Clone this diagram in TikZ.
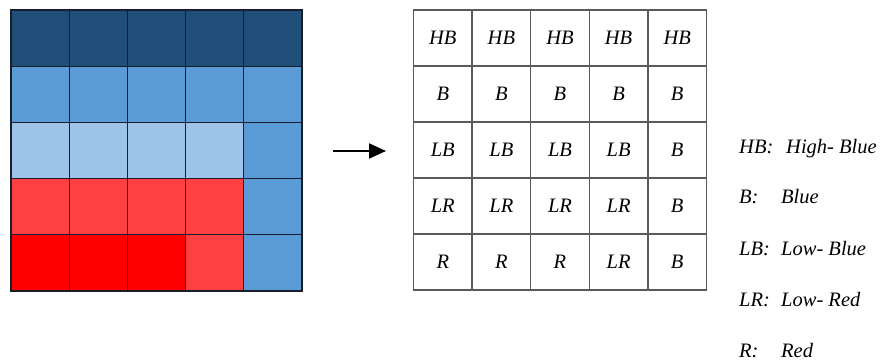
\documentclass[tikz,border=0pt]{standalone}
\usepackage{fontspec}
\setmainfont{Liberation Serif}
\newfontfamily\tnr{Liberation Serif}
\usetikzlibrary{arrows.meta}
\definecolor{hb}{RGB}{31,78,121}
\definecolor{bb}{RGB}{91,155,213}
\definecolor{lb}{RGB}{157,195,230}
\definecolor{lr}{RGB}{255,64,64}
\definecolor{rr}{RGB}{255,0,0}
\definecolor{gridA}{RGB}{25,30,45}
\definecolor{gridB}{RGB}{90,90,90}
\begin{document}
\begin{tikzpicture}[x=1pt,y=-1pt,
  lcell/.style={draw=gridA,line width=1.1pt,minimum width=58.2pt,minimum height=56.2pt,inner sep=0pt,outer sep=0pt},
  rcell/.style={draw=gridB,line width=1.4pt,minimum width=58.6pt,minimum height=56pt,inner sep=0pt,outer sep=0pt,font=\tnr\fontsize{20.5}{24}\selectfont\itshape},
  legend/.style={anchor=base west,inner sep=0pt,font=\tnr\fontsize{20.5}{24}\selectfont\itshape},
  arr/.style={line width=2.2pt,-{Triangle[length=17pt,width=15pt]}}]
\useasboundingbox (0,0) rectangle (881,361);
% left coloured grid
\foreach \c/\col in {0/hb,1/hb,2/hb,3/hb,4/hb}
  \node[lcell,fill=\col] (L-1-\c) at ({11+58.2*(\c+0.5)},{10+56.2*0.5}) {};
\foreach \c/\col in {0/bb,1/bb,2/bb,3/bb,4/bb}
  \node[lcell,fill=\col] (L-2-\c) at ({11+58.2*(\c+0.5)},{10+56.2*1.5}) {};
\foreach \c/\col in {0/lb,1/lb,2/lb,3/lb,4/bb}
  \node[lcell,fill=\col] (L-3-\c) at ({11+58.2*(\c+0.5)},{10+56.2*2.5}) {};
\foreach \c/\col in {0/lr,1/lr,2/lr,3/lr,4/bb}
  \node[lcell,fill=\col] (L-4-\c) at ({11+58.2*(\c+0.5)},{10+56.2*3.5}) {};
\foreach \c/\col in {0/rr,1/rr,2/rr,3/lr,4/bb}
  \node[lcell,fill=\col] (L-5-\c) at ({11+58.2*(\c+0.5)},{10+56.2*4.5}) {};
% arrow
\coordinate (as) at (333,151);
\coordinate (ae) at (386,151);
\draw[arr] (as) -- (ae);
% right labelled grid
\foreach \c/\t in {0/HB,1/HB,2/HB,3/HB,4/HB}
  \node[rcell] (R-1-\c) at ({413.5+58.6*(\c+0.5)},{10+56*0.5}) {\t};
\foreach \c/\t in {0/B,1/B,2/B,3/B,4/B}
  \node[rcell] (R-2-\c) at ({413.5+58.6*(\c+0.5)},{10+56*1.5}) {\t};
\foreach \c/\t in {0/LB,1/LB,2/LB,3/LB,4/B}
  \node[rcell] (R-3-\c) at ({413.5+58.6*(\c+0.5)},{10+56*2.5}) {\t};
\foreach \c/\t in {0/LR,1/LR,2/LR,3/LR,4/B}
  \node[rcell] (R-4-\c) at ({413.5+58.6*(\c+0.5)},{10+56*3.5}) {\t};
\foreach \c/\t in {0/R,1/R,2/R,3/LR,4/B}
  \node[rcell] (R-5-\c) at ({413.5+58.6*(\c+0.5)},{10+56*4.5}) {\t};
% legend
\node[legend] (k1) at (739,153) {HB:};
\node[legend] (v1) at (786,153) {High- Blue};
\node[legend] (k2) at (739,203.5) {B:};
\node[legend] (v2) at (781,203.5) {Blue};
\node[legend] (k3) at (739,255) {LB:};
\node[legend] (v3) at (781,255) {Low- Blue};
\node[legend] (k4) at (739,306) {LR:};
\node[legend] (v4) at (781,306) {Low- Red};
\node[legend] (k5) at (739,357) {R:};
\node[legend] (v5) at (781,357) {Red};
\end{tikzpicture}
\end{document}
